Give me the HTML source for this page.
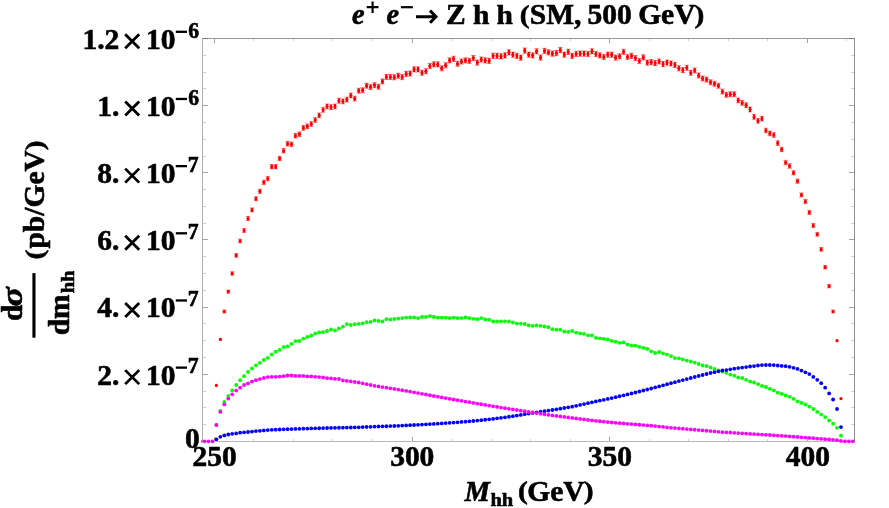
<!DOCTYPE html>
<html><head><meta charset="utf-8"><title>e+ e- to Z h h (SM, 500 GeV)</title>
<style>html,body{margin:0;padding:0;background:#fff;}svg{display:block;will-change:transform;}text{font-family:"Liberation Serif",serif;font-weight:bold;fill:#000;stroke:#000;stroke-width:0.6px;stroke-linejoin:round;}.i{font-style:italic;}</style></head><body>
<svg width="889" height="508" viewBox="0 0 889 508">
<rect x="0" y="0" width="889" height="508" fill="#fff"/>
<clipPath id="pc"><rect x="201.3" y="30" width="655" height="420"/></clipPath>
<g clip-path="url(#pc)">
<g id="red" stroke="#f00" fill="#f00">
<circle cx="216.40" cy="385.40" r="1.6" stroke="none"/>
<circle cx="220.35" cy="339.40" r="1.6" stroke="none"/>
<circle cx="224.31" cy="311.50" r="1.6" stroke="none"/>
<path d="M224.31 309.99V313.01" stroke-width="2.0"/>
<path d="M222.11 309.99h4.4M222.11 313.01h4.4" stroke-width="0.5"/>
<circle cx="228.26" cy="291.60" r="1.6" stroke="none"/>
<path d="M228.26 289.98V293.22" stroke-width="2.0"/>
<path d="M226.06 289.98h4.4M226.06 293.22h4.4" stroke-width="0.5"/>
<circle cx="232.21" cy="273.50" r="1.6" stroke="none"/>
<path d="M232.21 271.79V275.21" stroke-width="2.0"/>
<path d="M230.01 271.79h4.4M230.01 275.21h4.4" stroke-width="0.5"/>
<circle cx="236.17" cy="255.40" r="1.6" stroke="none"/>
<path d="M236.17 253.60V257.20" stroke-width="2.0"/>
<path d="M233.97 253.60h4.4M233.97 257.20h4.4" stroke-width="0.5"/>
<circle cx="240.12" cy="241.00" r="1.6" stroke="none"/>
<path d="M240.12 239.13V242.87" stroke-width="2.0"/>
<path d="M237.92 239.13h4.4M237.92 242.87h4.4" stroke-width="0.5"/>
<circle cx="244.07" cy="230.50" r="1.6" stroke="none"/>
<path d="M244.07 228.58V232.42" stroke-width="2.0"/>
<path d="M241.87 228.58h4.4M241.87 232.42h4.4" stroke-width="0.5"/>
<circle cx="248.02" cy="218.50" r="1.6" stroke="none"/>
<path d="M248.02 216.53V220.47" stroke-width="2.0"/>
<path d="M245.82 216.53h4.4M245.82 220.47h4.4" stroke-width="0.5"/>
<circle cx="251.98" cy="209.90" r="1.6" stroke="none"/>
<path d="M251.98 207.89V211.91" stroke-width="2.0"/>
<path d="M249.78 207.89h4.4M249.78 211.91h4.4" stroke-width="0.5"/>
<circle cx="255.93" cy="198.80" r="1.6" stroke="none"/>
<path d="M255.93 196.74V200.86" stroke-width="2.0"/>
<path d="M253.73 196.74h4.4M253.73 200.86h4.4" stroke-width="0.5"/>
<circle cx="259.88" cy="191.30" r="1.6" stroke="none"/>
<path d="M259.88 189.21V193.39" stroke-width="2.0"/>
<path d="M257.68 189.21h4.4M257.68 193.39h4.4" stroke-width="0.5"/>
<circle cx="263.84" cy="182.30" r="1.6" stroke="none"/>
<path d="M263.84 180.17V184.43" stroke-width="2.0"/>
<path d="M261.64 180.17h4.4M261.64 184.43h4.4" stroke-width="0.5"/>
<circle cx="267.79" cy="178.60" r="1.6" stroke="none"/>
<path d="M267.79 176.46V180.74" stroke-width="2.0"/>
<path d="M265.59 176.46h4.4M265.59 180.74h4.4" stroke-width="0.5"/>
<circle cx="271.74" cy="166.70" r="1.6" stroke="none"/>
<path d="M271.74 164.51V168.89" stroke-width="2.0"/>
<path d="M269.54 164.51h4.4M269.54 168.89h4.4" stroke-width="0.5"/>
<circle cx="275.69" cy="166.70" r="1.6" stroke="none"/>
<path d="M275.69 164.51V168.89" stroke-width="2.0"/>
<path d="M273.50 164.51h4.4M273.50 168.89h4.4" stroke-width="0.5"/>
<circle cx="279.65" cy="158.50" r="1.6" stroke="none"/>
<path d="M279.65 156.28V160.72" stroke-width="2.0"/>
<path d="M277.45 156.28h4.4M277.45 160.72h4.4" stroke-width="0.5"/>
<circle cx="283.60" cy="150.80" r="1.6" stroke="none"/>
<path d="M283.60 148.55V153.05" stroke-width="2.0"/>
<path d="M281.40 148.55h4.4M281.40 153.05h4.4" stroke-width="0.5"/>
<circle cx="287.55" cy="143.80" r="1.6" stroke="none"/>
<path d="M287.55 141.52V146.08" stroke-width="2.0"/>
<path d="M285.35 141.52h4.4M285.35 146.08h4.4" stroke-width="0.5"/>
<circle cx="291.51" cy="144.30" r="1.6" stroke="none"/>
<path d="M291.51 142.02V146.58" stroke-width="2.0"/>
<path d="M289.31 142.02h4.4M289.31 146.58h4.4" stroke-width="0.5"/>
<circle cx="295.46" cy="135.80" r="1.6" stroke="none"/>
<path d="M295.46 133.49V138.11" stroke-width="2.0"/>
<path d="M293.26 133.49h4.4M293.26 138.11h4.4" stroke-width="0.5"/>
<circle cx="299.41" cy="134.20" r="1.6" stroke="none"/>
<path d="M299.41 131.88V136.52" stroke-width="2.0"/>
<path d="M297.21 131.88h4.4M297.21 136.52h4.4" stroke-width="0.5"/>
<circle cx="303.37" cy="127.90" r="1.6" stroke="none"/>
<path d="M303.37 125.56V130.24" stroke-width="2.0"/>
<path d="M301.17 125.56h4.4M301.17 130.24h4.4" stroke-width="0.5"/>
<circle cx="307.32" cy="126.30" r="1.6" stroke="none"/>
<path d="M307.32 123.95V128.65" stroke-width="2.0"/>
<path d="M305.12 123.95h4.4M305.12 128.65h4.4" stroke-width="0.5"/>
<circle cx="311.27" cy="124.00" r="1.6" stroke="none"/>
<path d="M311.27 121.64V126.36" stroke-width="2.0"/>
<path d="M309.07 121.64h4.4M309.07 126.36h4.4" stroke-width="0.5"/>
<circle cx="315.23" cy="120.00" r="1.6" stroke="none"/>
<path d="M315.23 117.63V122.37" stroke-width="2.0"/>
<path d="M313.03 117.63h4.4M313.03 122.37h4.4" stroke-width="0.5"/>
<circle cx="319.18" cy="115.40" r="1.6" stroke="none"/>
<path d="M319.18 113.01V117.79" stroke-width="2.0"/>
<path d="M316.98 113.01h4.4M316.98 117.79h4.4" stroke-width="0.5"/>
<circle cx="323.13" cy="109.80" r="1.6" stroke="none"/>
<path d="M323.13 107.39V112.21" stroke-width="2.0"/>
<path d="M320.93 107.39h4.4M320.93 112.21h4.4" stroke-width="0.5"/>
<circle cx="327.08" cy="106.40" r="1.6" stroke="none"/>
<path d="M327.08 103.98V108.82" stroke-width="2.0"/>
<path d="M324.88 103.98h4.4M324.88 108.82h4.4" stroke-width="0.5"/>
<circle cx="331.04" cy="107.10" r="1.6" stroke="none"/>
<path d="M331.04 104.68V109.52" stroke-width="2.0"/>
<path d="M328.84 104.68h4.4M328.84 109.52h4.4" stroke-width="0.5"/>
<circle cx="334.99" cy="106.40" r="1.6" stroke="none"/>
<path d="M334.99 103.98V108.82" stroke-width="2.0"/>
<path d="M332.79 103.98h4.4M332.79 108.82h4.4" stroke-width="0.5"/>
<circle cx="338.94" cy="100.70" r="1.6" stroke="none"/>
<path d="M338.94 98.26V103.14" stroke-width="2.0"/>
<path d="M336.74 98.26h4.4M336.74 103.14h4.4" stroke-width="0.5"/>
<circle cx="342.90" cy="101.40" r="1.6" stroke="none"/>
<path d="M342.90 98.96V103.84" stroke-width="2.0"/>
<path d="M340.70 98.96h4.4M340.70 103.84h4.4" stroke-width="0.5"/>
<circle cx="346.85" cy="99.60" r="1.6" stroke="none"/>
<path d="M346.85 97.15V102.05" stroke-width="2.0"/>
<path d="M344.65 97.15h4.4M344.65 102.05h4.4" stroke-width="0.5"/>
<circle cx="350.80" cy="95.50" r="1.6" stroke="none"/>
<path d="M350.80 93.04V97.96" stroke-width="2.0"/>
<path d="M348.60 93.04h4.4M348.60 97.96h4.4" stroke-width="0.5"/>
<circle cx="354.75" cy="98.60" r="1.6" stroke="none"/>
<path d="M354.75 96.15V101.05" stroke-width="2.0"/>
<path d="M352.56 96.15h4.4M352.56 101.05h4.4" stroke-width="0.5"/>
<circle cx="358.71" cy="90.70" r="1.6" stroke="none"/>
<path d="M358.71 88.22V93.18" stroke-width="2.0"/>
<path d="M356.51 88.22h4.4M356.51 93.18h4.4" stroke-width="0.5"/>
<circle cx="362.66" cy="90.20" r="1.6" stroke="none"/>
<path d="M362.66 87.72V92.68" stroke-width="2.0"/>
<path d="M360.46 87.72h4.4M360.46 92.68h4.4" stroke-width="0.5"/>
<circle cx="366.61" cy="85.70" r="1.6" stroke="none"/>
<path d="M366.61 83.21V88.19" stroke-width="2.0"/>
<path d="M364.41 83.21h4.4M364.41 88.19h4.4" stroke-width="0.5"/>
<circle cx="370.57" cy="87.10" r="1.6" stroke="none"/>
<path d="M370.57 84.61V89.59" stroke-width="2.0"/>
<path d="M368.37 84.61h4.4M368.37 89.59h4.4" stroke-width="0.5"/>
<circle cx="374.52" cy="85.20" r="1.6" stroke="none"/>
<path d="M374.52 82.70V87.70" stroke-width="2.0"/>
<path d="M372.32 82.70h4.4M372.32 87.70h4.4" stroke-width="0.5"/>
<circle cx="378.47" cy="86.80" r="1.6" stroke="none"/>
<path d="M378.47 84.31V89.29" stroke-width="2.0"/>
<path d="M376.27 84.31h4.4M376.27 89.29h4.4" stroke-width="0.5"/>
<circle cx="382.43" cy="81.40" r="1.6" stroke="none"/>
<path d="M382.43 78.89V83.91" stroke-width="2.0"/>
<path d="M380.23 78.89h4.4M380.23 83.91h4.4" stroke-width="0.5"/>
<circle cx="386.38" cy="76.90" r="1.6" stroke="none"/>
<path d="M386.38 74.37V79.43" stroke-width="2.0"/>
<path d="M384.18 74.37h4.4M384.18 79.43h4.4" stroke-width="0.5"/>
<circle cx="390.33" cy="76.90" r="1.6" stroke="none"/>
<path d="M390.33 74.37V79.43" stroke-width="2.0"/>
<path d="M388.13 74.37h4.4M388.13 79.43h4.4" stroke-width="0.5"/>
<circle cx="394.28" cy="77.30" r="1.6" stroke="none"/>
<path d="M394.28 74.78V79.82" stroke-width="2.0"/>
<path d="M392.08 74.78h4.4M392.08 79.82h4.4" stroke-width="0.5"/>
<circle cx="398.24" cy="75.70" r="1.6" stroke="none"/>
<path d="M398.24 73.17V78.23" stroke-width="2.0"/>
<path d="M396.04 73.17h4.4M396.04 78.23h4.4" stroke-width="0.5"/>
<circle cx="402.19" cy="77.10" r="1.6" stroke="none"/>
<path d="M402.19 74.58V79.62" stroke-width="2.0"/>
<path d="M399.99 74.58h4.4M399.99 79.62h4.4" stroke-width="0.5"/>
<circle cx="406.14" cy="73.90" r="1.6" stroke="none"/>
<path d="M406.14 71.36V76.44" stroke-width="2.0"/>
<path d="M403.94 71.36h4.4M403.94 76.44h4.4" stroke-width="0.5"/>
<circle cx="410.10" cy="73.50" r="1.6" stroke="none"/>
<path d="M410.10 70.96V76.04" stroke-width="2.0"/>
<path d="M407.90 70.96h4.4M407.90 76.04h4.4" stroke-width="0.5"/>
<circle cx="414.05" cy="69.40" r="1.6" stroke="none"/>
<path d="M414.05 66.85V71.95" stroke-width="2.0"/>
<path d="M411.85 66.85h4.4M411.85 71.95h4.4" stroke-width="0.5"/>
<circle cx="418.00" cy="69.40" r="1.6" stroke="none"/>
<path d="M418.00 66.85V71.95" stroke-width="2.0"/>
<path d="M415.80 66.85h4.4M415.80 71.95h4.4" stroke-width="0.5"/>
<circle cx="421.96" cy="72.80" r="1.6" stroke="none"/>
<path d="M421.96 70.26V75.34" stroke-width="2.0"/>
<path d="M419.76 70.26h4.4M419.76 75.34h4.4" stroke-width="0.5"/>
<circle cx="425.91" cy="71.20" r="1.6" stroke="none"/>
<path d="M425.91 68.65V73.75" stroke-width="2.0"/>
<path d="M423.71 68.65h4.4M423.71 73.75h4.4" stroke-width="0.5"/>
<circle cx="429.86" cy="66.00" r="1.6" stroke="none"/>
<path d="M429.86 63.44V68.56" stroke-width="2.0"/>
<path d="M427.66 63.44h4.4M427.66 68.56h4.4" stroke-width="0.5"/>
<circle cx="433.81" cy="64.40" r="1.6" stroke="none"/>
<path d="M433.81 61.83V66.97" stroke-width="2.0"/>
<path d="M431.62 61.83h4.4M431.62 66.97h4.4" stroke-width="0.5"/>
<circle cx="437.77" cy="64.40" r="1.6" stroke="none"/>
<path d="M437.77 61.83V66.97" stroke-width="2.0"/>
<path d="M435.57 61.83h4.4M435.57 66.97h4.4" stroke-width="0.5"/>
<circle cx="441.72" cy="68.30" r="1.6" stroke="none"/>
<path d="M441.72 65.74V70.86" stroke-width="2.0"/>
<path d="M439.52 65.74h4.4M439.52 70.86h4.4" stroke-width="0.5"/>
<circle cx="445.67" cy="65.30" r="1.6" stroke="none"/>
<path d="M445.67 62.73V67.87" stroke-width="2.0"/>
<path d="M443.47 62.73h4.4M443.47 67.87h4.4" stroke-width="0.5"/>
<circle cx="449.63" cy="60.40" r="1.6" stroke="none"/>
<path d="M449.63 57.82V62.98" stroke-width="2.0"/>
<path d="M447.43 57.82h4.4M447.43 62.98h4.4" stroke-width="0.5"/>
<circle cx="453.58" cy="58.80" r="1.6" stroke="none"/>
<path d="M453.58 56.21V61.39" stroke-width="2.0"/>
<path d="M451.38 56.21h4.4M451.38 61.39h4.4" stroke-width="0.5"/>
<circle cx="457.53" cy="63.80" r="1.6" stroke="none"/>
<path d="M457.53 61.23V66.37" stroke-width="2.0"/>
<path d="M455.33 61.23h4.4M455.33 66.37h4.4" stroke-width="0.5"/>
<circle cx="461.49" cy="61.50" r="1.6" stroke="none"/>
<path d="M461.49 58.92V64.08" stroke-width="2.0"/>
<path d="M459.29 58.92h4.4M459.29 64.08h4.4" stroke-width="0.5"/>
<circle cx="465.44" cy="60.40" r="1.6" stroke="none"/>
<path d="M465.44 57.82V62.98" stroke-width="2.0"/>
<path d="M463.24 57.82h4.4M463.24 62.98h4.4" stroke-width="0.5"/>
<circle cx="469.39" cy="60.80" r="1.6" stroke="none"/>
<path d="M469.39 58.22V63.38" stroke-width="2.0"/>
<path d="M467.19 58.22h4.4M467.19 63.38h4.4" stroke-width="0.5"/>
<circle cx="473.35" cy="58.10" r="1.6" stroke="none"/>
<path d="M473.35 55.51V60.69" stroke-width="2.0"/>
<path d="M471.15 55.51h4.4M471.15 60.69h4.4" stroke-width="0.5"/>
<circle cx="477.30" cy="62.60" r="1.6" stroke="none"/>
<path d="M477.30 60.03V65.17" stroke-width="2.0"/>
<path d="M475.10 60.03h4.4M475.10 65.17h4.4" stroke-width="0.5"/>
<circle cx="481.25" cy="59.50" r="1.6" stroke="none"/>
<path d="M481.25 56.91V62.09" stroke-width="2.0"/>
<path d="M479.05 56.91h4.4M479.05 62.09h4.4" stroke-width="0.5"/>
<circle cx="485.20" cy="60.40" r="1.6" stroke="none"/>
<path d="M485.20 57.82V62.98" stroke-width="2.0"/>
<path d="M483.00 57.82h4.4M483.00 62.98h4.4" stroke-width="0.5"/>
<circle cx="489.16" cy="60.80" r="1.6" stroke="none"/>
<path d="M489.16 58.22V63.38" stroke-width="2.0"/>
<path d="M486.96 58.22h4.4M486.96 63.38h4.4" stroke-width="0.5"/>
<circle cx="493.11" cy="55.80" r="1.6" stroke="none"/>
<path d="M493.11 53.20V58.40" stroke-width="2.0"/>
<path d="M490.91 53.20h4.4M490.91 58.40h4.4" stroke-width="0.5"/>
<circle cx="497.06" cy="55.80" r="1.6" stroke="none"/>
<path d="M497.06 53.20V58.40" stroke-width="2.0"/>
<path d="M494.86 53.20h4.4M494.86 58.40h4.4" stroke-width="0.5"/>
<circle cx="501.02" cy="56.30" r="1.6" stroke="none"/>
<path d="M501.02 53.70V58.90" stroke-width="2.0"/>
<path d="M498.82 53.70h4.4M498.82 58.90h4.4" stroke-width="0.5"/>
<circle cx="504.97" cy="55.40" r="1.6" stroke="none"/>
<path d="M504.97 52.80V58.00" stroke-width="2.0"/>
<path d="M502.77 52.80h4.4M502.77 58.00h4.4" stroke-width="0.5"/>
<circle cx="508.92" cy="52.40" r="1.6" stroke="none"/>
<path d="M508.92 49.79V55.01" stroke-width="2.0"/>
<path d="M506.72 49.79h4.4M506.72 55.01h4.4" stroke-width="0.5"/>
<circle cx="512.88" cy="54.70" r="1.6" stroke="none"/>
<path d="M512.88 52.10V57.30" stroke-width="2.0"/>
<path d="M510.68 52.10h4.4M510.68 57.30h4.4" stroke-width="0.5"/>
<circle cx="516.83" cy="55.80" r="1.6" stroke="none"/>
<path d="M516.83 53.20V58.40" stroke-width="2.0"/>
<path d="M514.63 53.20h4.4M514.63 58.40h4.4" stroke-width="0.5"/>
<circle cx="520.78" cy="57.60" r="1.6" stroke="none"/>
<path d="M520.78 55.01V60.19" stroke-width="2.0"/>
<path d="M518.58 55.01h4.4M518.58 60.19h4.4" stroke-width="0.5"/>
<circle cx="524.73" cy="50.60" r="1.6" stroke="none"/>
<path d="M524.73 47.98V53.22" stroke-width="2.0"/>
<path d="M522.53 47.98h4.4M522.53 53.22h4.4" stroke-width="0.5"/>
<circle cx="528.69" cy="54.70" r="1.6" stroke="none"/>
<path d="M528.69 52.10V57.30" stroke-width="2.0"/>
<path d="M526.49 52.10h4.4M526.49 57.30h4.4" stroke-width="0.5"/>
<circle cx="532.64" cy="55.40" r="1.6" stroke="none"/>
<path d="M532.64 52.80V58.00" stroke-width="2.0"/>
<path d="M530.44 52.80h4.4M530.44 58.00h4.4" stroke-width="0.5"/>
<circle cx="536.59" cy="51.30" r="1.6" stroke="none"/>
<path d="M536.59 48.69V53.91" stroke-width="2.0"/>
<path d="M534.39 48.69h4.4M534.39 53.91h4.4" stroke-width="0.5"/>
<circle cx="540.55" cy="57.60" r="1.6" stroke="none"/>
<path d="M540.55 55.01V60.19" stroke-width="2.0"/>
<path d="M538.35 55.01h4.4M538.35 60.19h4.4" stroke-width="0.5"/>
<circle cx="544.50" cy="50.90" r="1.6" stroke="none"/>
<path d="M544.50 48.29V53.51" stroke-width="2.0"/>
<path d="M542.30 48.29h4.4M542.30 53.51h4.4" stroke-width="0.5"/>
<circle cx="548.45" cy="52.40" r="1.6" stroke="none"/>
<path d="M548.45 49.79V55.01" stroke-width="2.0"/>
<path d="M546.25 49.79h4.4M546.25 55.01h4.4" stroke-width="0.5"/>
<circle cx="552.40" cy="53.60" r="1.6" stroke="none"/>
<path d="M552.40 50.99V56.21" stroke-width="2.0"/>
<path d="M550.20 50.99h4.4M550.20 56.21h4.4" stroke-width="0.5"/>
<circle cx="556.36" cy="53.10" r="1.6" stroke="none"/>
<path d="M556.36 50.49V55.71" stroke-width="2.0"/>
<path d="M554.16 50.49h4.4M554.16 55.71h4.4" stroke-width="0.5"/>
<circle cx="560.31" cy="50.20" r="1.6" stroke="none"/>
<path d="M560.31 47.58V52.82" stroke-width="2.0"/>
<path d="M558.11 47.58h4.4M558.11 52.82h4.4" stroke-width="0.5"/>
<circle cx="564.26" cy="54.70" r="1.6" stroke="none"/>
<path d="M564.26 52.10V57.30" stroke-width="2.0"/>
<path d="M562.06 52.10h4.4M562.06 57.30h4.4" stroke-width="0.5"/>
<circle cx="568.22" cy="51.80" r="1.6" stroke="none"/>
<path d="M568.22 49.19V54.41" stroke-width="2.0"/>
<path d="M566.02 49.19h4.4M566.02 54.41h4.4" stroke-width="0.5"/>
<circle cx="572.17" cy="55.80" r="1.6" stroke="none"/>
<path d="M572.17 53.20V58.40" stroke-width="2.0"/>
<path d="M569.97 53.20h4.4M569.97 58.40h4.4" stroke-width="0.5"/>
<circle cx="576.12" cy="54.00" r="1.6" stroke="none"/>
<path d="M576.12 51.40V56.60" stroke-width="2.0"/>
<path d="M573.92 51.40h4.4M573.92 56.60h4.4" stroke-width="0.5"/>
<circle cx="580.08" cy="53.60" r="1.6" stroke="none"/>
<path d="M580.08 50.99V56.21" stroke-width="2.0"/>
<path d="M577.88 50.99h4.4M577.88 56.21h4.4" stroke-width="0.5"/>
<circle cx="584.03" cy="53.60" r="1.6" stroke="none"/>
<path d="M584.03 50.99V56.21" stroke-width="2.0"/>
<path d="M581.83 50.99h4.4M581.83 56.21h4.4" stroke-width="0.5"/>
<circle cx="587.98" cy="54.00" r="1.6" stroke="none"/>
<path d="M587.98 51.40V56.60" stroke-width="2.0"/>
<path d="M585.78 51.40h4.4M585.78 56.60h4.4" stroke-width="0.5"/>
<circle cx="591.93" cy="51.30" r="1.6" stroke="none"/>
<path d="M591.93 48.69V53.91" stroke-width="2.0"/>
<path d="M589.73 48.69h4.4M589.73 53.91h4.4" stroke-width="0.5"/>
<circle cx="595.89" cy="54.00" r="1.6" stroke="none"/>
<path d="M595.89 51.40V56.60" stroke-width="2.0"/>
<path d="M593.69 51.40h4.4M593.69 56.60h4.4" stroke-width="0.5"/>
<circle cx="599.84" cy="55.40" r="1.6" stroke="none"/>
<path d="M599.84 52.80V58.00" stroke-width="2.0"/>
<path d="M597.64 52.80h4.4M597.64 58.00h4.4" stroke-width="0.5"/>
<circle cx="603.79" cy="57.00" r="1.6" stroke="none"/>
<path d="M603.79 54.41V59.59" stroke-width="2.0"/>
<path d="M601.59 54.41h4.4M601.59 59.59h4.4" stroke-width="0.5"/>
<circle cx="607.75" cy="54.70" r="1.6" stroke="none"/>
<path d="M607.75 52.10V57.30" stroke-width="2.0"/>
<path d="M605.55 52.10h4.4M605.55 57.30h4.4" stroke-width="0.5"/>
<circle cx="611.70" cy="54.70" r="1.6" stroke="none"/>
<path d="M611.70 52.10V57.30" stroke-width="2.0"/>
<path d="M609.50 52.10h4.4M609.50 57.30h4.4" stroke-width="0.5"/>
<circle cx="615.65" cy="57.60" r="1.6" stroke="none"/>
<path d="M615.65 55.01V60.19" stroke-width="2.0"/>
<path d="M613.45 55.01h4.4M613.45 60.19h4.4" stroke-width="0.5"/>
<circle cx="619.61" cy="56.30" r="1.6" stroke="none"/>
<path d="M619.61 53.70V58.90" stroke-width="2.0"/>
<path d="M617.41 53.70h4.4M617.41 58.90h4.4" stroke-width="0.5"/>
<circle cx="623.56" cy="51.80" r="1.6" stroke="none"/>
<path d="M623.56 49.19V54.41" stroke-width="2.0"/>
<path d="M621.36 49.19h4.4M621.36 54.41h4.4" stroke-width="0.5"/>
<circle cx="627.51" cy="57.00" r="1.6" stroke="none"/>
<path d="M627.51 54.41V59.59" stroke-width="2.0"/>
<path d="M625.31 54.41h4.4M625.31 59.59h4.4" stroke-width="0.5"/>
<circle cx="631.47" cy="55.80" r="1.6" stroke="none"/>
<path d="M631.47 53.20V58.40" stroke-width="2.0"/>
<path d="M629.26 53.20h4.4M629.26 58.40h4.4" stroke-width="0.5"/>
<circle cx="635.42" cy="58.10" r="1.6" stroke="none"/>
<path d="M635.42 55.51V60.69" stroke-width="2.0"/>
<path d="M633.22 55.51h4.4M633.22 60.69h4.4" stroke-width="0.5"/>
<circle cx="639.37" cy="61.00" r="1.6" stroke="none"/>
<path d="M639.37 58.42V63.58" stroke-width="2.0"/>
<path d="M637.17 58.42h4.4M637.17 63.58h4.4" stroke-width="0.5"/>
<circle cx="643.32" cy="57.40" r="1.6" stroke="none"/>
<path d="M643.32 54.81V59.99" stroke-width="2.0"/>
<path d="M641.12 54.81h4.4M641.12 59.99h4.4" stroke-width="0.5"/>
<circle cx="647.28" cy="62.60" r="1.6" stroke="none"/>
<path d="M647.28 60.03V65.17" stroke-width="2.0"/>
<path d="M645.08 60.03h4.4M645.08 65.17h4.4" stroke-width="0.5"/>
<circle cx="651.23" cy="62.20" r="1.6" stroke="none"/>
<path d="M651.23 59.62V64.78" stroke-width="2.0"/>
<path d="M649.03 59.62h4.4M649.03 64.78h4.4" stroke-width="0.5"/>
<circle cx="655.18" cy="63.10" r="1.6" stroke="none"/>
<path d="M655.18 60.53V65.67" stroke-width="2.0"/>
<path d="M652.98 60.53h4.4M652.98 65.67h4.4" stroke-width="0.5"/>
<circle cx="659.14" cy="61.50" r="1.6" stroke="none"/>
<path d="M659.14 58.92V64.08" stroke-width="2.0"/>
<path d="M656.94 58.92h4.4M656.94 64.08h4.4" stroke-width="0.5"/>
<circle cx="663.09" cy="64.10" r="1.6" stroke="none"/>
<path d="M663.09 61.53V66.67" stroke-width="2.0"/>
<path d="M660.89 61.53h4.4M660.89 66.67h4.4" stroke-width="0.5"/>
<circle cx="667.04" cy="62.60" r="1.6" stroke="none"/>
<path d="M667.04 60.03V65.17" stroke-width="2.0"/>
<path d="M664.84 60.03h4.4M664.84 65.17h4.4" stroke-width="0.5"/>
<circle cx="671.00" cy="63.50" r="1.6" stroke="none"/>
<path d="M671.00 60.93V66.07" stroke-width="2.0"/>
<path d="M668.79 60.93h4.4M668.79 66.07h4.4" stroke-width="0.5"/>
<circle cx="674.95" cy="64.90" r="1.6" stroke="none"/>
<path d="M674.95 62.33V67.47" stroke-width="2.0"/>
<path d="M672.75 62.33h4.4M672.75 67.47h4.4" stroke-width="0.5"/>
<circle cx="678.90" cy="68.30" r="1.6" stroke="none"/>
<path d="M678.90 65.74V70.86" stroke-width="2.0"/>
<path d="M676.70 65.74h4.4M676.70 70.86h4.4" stroke-width="0.5"/>
<circle cx="682.85" cy="70.10" r="1.6" stroke="none"/>
<path d="M682.85 67.55V72.65" stroke-width="2.0"/>
<path d="M680.65 67.55h4.4M680.65 72.65h4.4" stroke-width="0.5"/>
<circle cx="686.81" cy="67.80" r="1.6" stroke="none"/>
<path d="M686.81 65.24V70.36" stroke-width="2.0"/>
<path d="M684.61 65.24h4.4M684.61 70.36h4.4" stroke-width="0.5"/>
<circle cx="690.76" cy="72.80" r="1.6" stroke="none"/>
<path d="M690.76 70.26V75.34" stroke-width="2.0"/>
<path d="M688.56 70.26h4.4M688.56 75.34h4.4" stroke-width="0.5"/>
<circle cx="694.71" cy="70.50" r="1.6" stroke="none"/>
<path d="M694.71 67.95V73.05" stroke-width="2.0"/>
<path d="M692.51 67.95h4.4M692.51 73.05h4.4" stroke-width="0.5"/>
<circle cx="698.67" cy="75.50" r="1.6" stroke="none"/>
<path d="M698.67 72.97V78.03" stroke-width="2.0"/>
<path d="M696.47 72.97h4.4M696.47 78.03h4.4" stroke-width="0.5"/>
<circle cx="702.62" cy="78.50" r="1.6" stroke="none"/>
<path d="M702.62 75.98V81.02" stroke-width="2.0"/>
<path d="M700.42 75.98h4.4M700.42 81.02h4.4" stroke-width="0.5"/>
<circle cx="706.57" cy="79.60" r="1.6" stroke="none"/>
<path d="M706.57 77.08V82.12" stroke-width="2.0"/>
<path d="M704.37 77.08h4.4M704.37 82.12h4.4" stroke-width="0.5"/>
<circle cx="710.52" cy="82.30" r="1.6" stroke="none"/>
<path d="M710.52 79.79V84.81" stroke-width="2.0"/>
<path d="M708.32 79.79h4.4M708.32 84.81h4.4" stroke-width="0.5"/>
<circle cx="714.48" cy="83.70" r="1.6" stroke="none"/>
<path d="M714.48 81.20V86.20" stroke-width="2.0"/>
<path d="M712.28 81.20h4.4M712.28 86.20h4.4" stroke-width="0.5"/>
<circle cx="718.43" cy="85.70" r="1.6" stroke="none"/>
<path d="M718.43 83.21V88.19" stroke-width="2.0"/>
<path d="M716.23 83.21h4.4M716.23 88.19h4.4" stroke-width="0.5"/>
<circle cx="722.38" cy="91.60" r="1.6" stroke="none"/>
<path d="M722.38 89.13V94.07" stroke-width="2.0"/>
<path d="M720.18 89.13h4.4M720.18 94.07h4.4" stroke-width="0.5"/>
<circle cx="726.34" cy="94.80" r="1.6" stroke="none"/>
<path d="M726.34 92.34V97.26" stroke-width="2.0"/>
<path d="M724.14 92.34h4.4M724.14 97.26h4.4" stroke-width="0.5"/>
<circle cx="730.29" cy="94.30" r="1.6" stroke="none"/>
<path d="M730.29 91.84V96.76" stroke-width="2.0"/>
<path d="M728.09 91.84h4.4M728.09 96.76h4.4" stroke-width="0.5"/>
<circle cx="734.24" cy="94.30" r="1.6" stroke="none"/>
<path d="M734.24 91.84V96.76" stroke-width="2.0"/>
<path d="M732.04 91.84h4.4M732.04 96.76h4.4" stroke-width="0.5"/>
<circle cx="738.20" cy="100.40" r="1.6" stroke="none"/>
<path d="M738.20 97.96V102.84" stroke-width="2.0"/>
<path d="M736.00 97.96h4.4M736.00 102.84h4.4" stroke-width="0.5"/>
<circle cx="742.15" cy="102.90" r="1.6" stroke="none"/>
<path d="M742.15 100.47V105.33" stroke-width="2.0"/>
<path d="M739.95 100.47h4.4M739.95 105.33h4.4" stroke-width="0.5"/>
<circle cx="746.10" cy="105.20" r="1.6" stroke="none"/>
<path d="M746.10 102.77V107.63" stroke-width="2.0"/>
<path d="M743.90 102.77h4.4M743.90 107.63h4.4" stroke-width="0.5"/>
<circle cx="750.05" cy="109.50" r="1.6" stroke="none"/>
<path d="M750.05 107.09V111.91" stroke-width="2.0"/>
<path d="M747.85 107.09h4.4M747.85 111.91h4.4" stroke-width="0.5"/>
<circle cx="754.01" cy="116.90" r="1.6" stroke="none"/>
<path d="M754.01 114.52V119.28" stroke-width="2.0"/>
<path d="M751.81 114.52h4.4M751.81 119.28h4.4" stroke-width="0.5"/>
<circle cx="757.96" cy="120.80" r="1.6" stroke="none"/>
<path d="M757.96 118.43V123.17" stroke-width="2.0"/>
<path d="M755.76 118.43h4.4M755.76 123.17h4.4" stroke-width="0.5"/>
<circle cx="761.91" cy="118.70" r="1.6" stroke="none"/>
<path d="M761.91 116.32V121.08" stroke-width="2.0"/>
<path d="M759.71 116.32h4.4M759.71 121.08h4.4" stroke-width="0.5"/>
<circle cx="765.87" cy="130.50" r="1.6" stroke="none"/>
<path d="M765.87 128.17V132.83" stroke-width="2.0"/>
<path d="M763.67 128.17h4.4M763.67 132.83h4.4" stroke-width="0.5"/>
<circle cx="769.82" cy="133.40" r="1.6" stroke="none"/>
<path d="M769.82 131.08V135.72" stroke-width="2.0"/>
<path d="M767.62 131.08h4.4M767.62 135.72h4.4" stroke-width="0.5"/>
<circle cx="773.77" cy="135.00" r="1.6" stroke="none"/>
<path d="M773.77 132.68V137.32" stroke-width="2.0"/>
<path d="M771.57 132.68h4.4M771.57 137.32h4.4" stroke-width="0.5"/>
<circle cx="777.73" cy="143.10" r="1.6" stroke="none"/>
<path d="M777.73 140.82V145.38" stroke-width="2.0"/>
<path d="M775.53 140.82h4.4M775.53 145.38h4.4" stroke-width="0.5"/>
<circle cx="781.68" cy="149.40" r="1.6" stroke="none"/>
<path d="M781.68 147.14V151.66" stroke-width="2.0"/>
<path d="M779.48 147.14h4.4M779.48 151.66h4.4" stroke-width="0.5"/>
<circle cx="785.63" cy="162.60" r="1.6" stroke="none"/>
<path d="M785.63 160.39V164.81" stroke-width="2.0"/>
<path d="M783.43 160.39h4.4M783.43 164.81h4.4" stroke-width="0.5"/>
<circle cx="789.58" cy="166.00" r="1.6" stroke="none"/>
<path d="M789.58 163.80V168.20" stroke-width="2.0"/>
<path d="M787.38 163.80h4.4M787.38 168.20h4.4" stroke-width="0.5"/>
<circle cx="793.54" cy="172.80" r="1.6" stroke="none"/>
<path d="M793.54 170.63V174.97" stroke-width="2.0"/>
<path d="M791.34 170.63h4.4M791.34 174.97h4.4" stroke-width="0.5"/>
<circle cx="797.49" cy="181.20" r="1.6" stroke="none"/>
<path d="M797.49 179.07V183.33" stroke-width="2.0"/>
<path d="M795.29 179.07h4.4M795.29 183.33h4.4" stroke-width="0.5"/>
<circle cx="801.44" cy="195.00" r="1.6" stroke="none"/>
<path d="M801.44 192.92V197.08" stroke-width="2.0"/>
<path d="M799.24 192.92h4.4M799.24 197.08h4.4" stroke-width="0.5"/>
<circle cx="805.40" cy="201.50" r="1.6" stroke="none"/>
<path d="M805.40 199.45V203.55" stroke-width="2.0"/>
<path d="M803.20 199.45h4.4M803.20 203.55h4.4" stroke-width="0.5"/>
<circle cx="809.35" cy="212.40" r="1.6" stroke="none"/>
<path d="M809.35 210.40V214.40" stroke-width="2.0"/>
<path d="M807.15 210.40h4.4M807.15 214.40h4.4" stroke-width="0.5"/>
<circle cx="813.30" cy="225.50" r="1.6" stroke="none"/>
<path d="M813.30 223.56V227.44" stroke-width="2.0"/>
<path d="M811.10 223.56h4.4M811.10 227.44h4.4" stroke-width="0.5"/>
<circle cx="817.26" cy="234.30" r="1.6" stroke="none"/>
<path d="M817.26 232.40V236.20" stroke-width="2.0"/>
<path d="M815.06 232.40h4.4M815.06 236.20h4.4" stroke-width="0.5"/>
<circle cx="821.21" cy="249.40" r="1.6" stroke="none"/>
<path d="M821.21 247.57V251.23" stroke-width="2.0"/>
<path d="M819.01 247.57h4.4M819.01 251.23h4.4" stroke-width="0.5"/>
<circle cx="825.16" cy="267.20" r="1.6" stroke="none"/>
<path d="M825.16 265.45V268.95" stroke-width="2.0"/>
<path d="M822.96 265.45h4.4M822.96 268.95h4.4" stroke-width="0.5"/>
<circle cx="829.12" cy="286.20" r="1.6" stroke="none"/>
<path d="M829.12 284.55V287.85" stroke-width="2.0"/>
<path d="M826.91 284.55h4.4M826.91 287.85h4.4" stroke-width="0.5"/>
<circle cx="833.07" cy="311.50" r="1.6" stroke="none"/>
<path d="M833.07 309.99V313.01" stroke-width="2.0"/>
<path d="M830.87 309.99h4.4M830.87 313.01h4.4" stroke-width="0.5"/>
<circle cx="837.02" cy="340.70" r="1.6" stroke="none"/>
<circle cx="840.97" cy="398.60" r="1.6" stroke="none"/>
</g>
<g id="green" fill="#0f0">
<circle cx="216.40" cy="425.00" r="1.9"/>
<circle cx="220.35" cy="410.80" r="1.9"/>
<circle cx="224.31" cy="402.00" r="1.9"/>
<circle cx="228.26" cy="396.00" r="1.9"/>
<circle cx="232.21" cy="390.40" r="1.9"/>
<circle cx="236.17" cy="385.00" r="1.9"/>
<circle cx="240.12" cy="380.20" r="1.9"/>
<circle cx="244.07" cy="376.20" r="1.9"/>
<circle cx="248.02" cy="371.90" r="1.9"/>
<circle cx="251.98" cy="368.50" r="1.9"/>
<circle cx="255.93" cy="365.30" r="1.9"/>
<circle cx="259.88" cy="362.80" r="1.9"/>
<circle cx="263.84" cy="359.90" r="1.9"/>
<circle cx="267.79" cy="357.80" r="1.9"/>
<circle cx="271.74" cy="354.40" r="1.9"/>
<circle cx="275.69" cy="351.70" r="1.9"/>
<circle cx="279.65" cy="349.90" r="1.9"/>
<circle cx="283.60" cy="347.10" r="1.9"/>
<circle cx="287.55" cy="346.40" r="1.9"/>
<circle cx="291.51" cy="343.80" r="1.9"/>
<circle cx="295.46" cy="341.10" r="1.9"/>
<circle cx="299.41" cy="341.00" r="1.9"/>
<circle cx="303.37" cy="338.60" r="1.9"/>
<circle cx="307.32" cy="336.80" r="1.9"/>
<circle cx="311.27" cy="335.50" r="1.9"/>
<circle cx="315.23" cy="333.50" r="1.9"/>
<circle cx="319.18" cy="332.30" r="1.9"/>
<circle cx="323.13" cy="332.10" r="1.9"/>
<circle cx="327.08" cy="331.00" r="1.9"/>
<circle cx="331.04" cy="329.50" r="1.9"/>
<circle cx="334.99" cy="330.50" r="1.9"/>
<circle cx="338.94" cy="328.40" r="1.9"/>
<circle cx="342.90" cy="326.60" r="1.9"/>
<circle cx="346.85" cy="324.10" r="1.9"/>
<circle cx="350.80" cy="325.00" r="1.9"/>
<circle cx="354.75" cy="324.20" r="1.9"/>
<circle cx="358.71" cy="323.80" r="1.9"/>
<circle cx="362.66" cy="323.30" r="1.9"/>
<circle cx="366.61" cy="322.20" r="1.9"/>
<circle cx="370.57" cy="321.90" r="1.9"/>
<circle cx="374.52" cy="320.40" r="1.9"/>
<circle cx="378.47" cy="321.00" r="1.9"/>
<circle cx="382.43" cy="321.50" r="1.9"/>
<circle cx="386.38" cy="319.20" r="1.9"/>
<circle cx="390.33" cy="319.50" r="1.9"/>
<circle cx="394.28" cy="319.00" r="1.9"/>
<circle cx="398.24" cy="318.60" r="1.9"/>
<circle cx="402.19" cy="318.10" r="1.9"/>
<circle cx="406.14" cy="317.60" r="1.9"/>
<circle cx="410.10" cy="317.40" r="1.9"/>
<circle cx="414.05" cy="317.40" r="1.9"/>
<circle cx="418.00" cy="318.10" r="1.9"/>
<circle cx="421.96" cy="317.00" r="1.9"/>
<circle cx="425.91" cy="317.00" r="1.9"/>
<circle cx="429.86" cy="316.10" r="1.9"/>
<circle cx="433.81" cy="317.00" r="1.9"/>
<circle cx="437.77" cy="317.60" r="1.9"/>
<circle cx="441.72" cy="317.60" r="1.9"/>
<circle cx="445.67" cy="317.60" r="1.9"/>
<circle cx="449.63" cy="318.10" r="1.9"/>
<circle cx="453.58" cy="317.60" r="1.9"/>
<circle cx="457.53" cy="318.10" r="1.9"/>
<circle cx="461.49" cy="318.10" r="1.9"/>
<circle cx="465.44" cy="317.40" r="1.9"/>
<circle cx="469.39" cy="318.10" r="1.9"/>
<circle cx="473.35" cy="318.80" r="1.9"/>
<circle cx="477.30" cy="319.20" r="1.9"/>
<circle cx="481.25" cy="318.10" r="1.9"/>
<circle cx="485.20" cy="319.50" r="1.9"/>
<circle cx="489.16" cy="319.70" r="1.9"/>
<circle cx="493.11" cy="321.50" r="1.9"/>
<circle cx="497.06" cy="321.50" r="1.9"/>
<circle cx="501.02" cy="321.30" r="1.9"/>
<circle cx="504.97" cy="321.30" r="1.9"/>
<circle cx="508.92" cy="321.50" r="1.9"/>
<circle cx="512.88" cy="322.50" r="1.9"/>
<circle cx="516.83" cy="323.60" r="1.9"/>
<circle cx="520.78" cy="323.60" r="1.9"/>
<circle cx="524.73" cy="324.00" r="1.9"/>
<circle cx="528.69" cy="325.40" r="1.9"/>
<circle cx="532.64" cy="325.80" r="1.9"/>
<circle cx="536.59" cy="325.40" r="1.9"/>
<circle cx="540.55" cy="325.80" r="1.9"/>
<circle cx="544.50" cy="326.50" r="1.9"/>
<circle cx="548.45" cy="327.20" r="1.9"/>
<circle cx="552.40" cy="329.20" r="1.9"/>
<circle cx="556.36" cy="329.70" r="1.9"/>
<circle cx="560.31" cy="329.70" r="1.9"/>
<circle cx="564.26" cy="331.50" r="1.9"/>
<circle cx="568.22" cy="331.90" r="1.9"/>
<circle cx="572.17" cy="331.00" r="1.9"/>
<circle cx="576.12" cy="332.60" r="1.9"/>
<circle cx="580.08" cy="333.30" r="1.9"/>
<circle cx="584.03" cy="333.80" r="1.9"/>
<circle cx="587.98" cy="335.30" r="1.9"/>
<circle cx="591.93" cy="335.30" r="1.9"/>
<circle cx="595.89" cy="337.80" r="1.9"/>
<circle cx="599.84" cy="338.30" r="1.9"/>
<circle cx="603.79" cy="338.90" r="1.9"/>
<circle cx="607.75" cy="339.40" r="1.9"/>
<circle cx="611.70" cy="340.90" r="1.9"/>
<circle cx="615.65" cy="341.70" r="1.9"/>
<circle cx="619.61" cy="342.80" r="1.9"/>
<circle cx="623.56" cy="342.40" r="1.9"/>
<circle cx="627.51" cy="344.60" r="1.9"/>
<circle cx="631.47" cy="345.60" r="1.9"/>
<circle cx="635.42" cy="345.70" r="1.9"/>
<circle cx="639.37" cy="346.90" r="1.9"/>
<circle cx="643.32" cy="347.80" r="1.9"/>
<circle cx="647.28" cy="348.90" r="1.9"/>
<circle cx="651.23" cy="351.30" r="1.9"/>
<circle cx="655.18" cy="353.00" r="1.9"/>
<circle cx="659.14" cy="352.00" r="1.9"/>
<circle cx="663.09" cy="353.40" r="1.9"/>
<circle cx="667.04" cy="354.60" r="1.9"/>
<circle cx="671.00" cy="356.20" r="1.9"/>
<circle cx="674.95" cy="358.10" r="1.9"/>
<circle cx="678.90" cy="358.30" r="1.9"/>
<circle cx="682.85" cy="359.40" r="1.9"/>
<circle cx="686.81" cy="360.60" r="1.9"/>
<circle cx="690.76" cy="361.50" r="1.9"/>
<circle cx="694.71" cy="362.60" r="1.9"/>
<circle cx="698.67" cy="364.00" r="1.9"/>
<circle cx="702.62" cy="365.50" r="1.9"/>
<circle cx="706.57" cy="366.00" r="1.9"/>
<circle cx="710.52" cy="367.40" r="1.9"/>
<circle cx="714.48" cy="368.90" r="1.9"/>
<circle cx="718.43" cy="370.50" r="1.9"/>
<circle cx="722.38" cy="371.50" r="1.9"/>
<circle cx="726.34" cy="372.80" r="1.9"/>
<circle cx="730.29" cy="374.60" r="1.9"/>
<circle cx="734.24" cy="375.70" r="1.9"/>
<circle cx="738.20" cy="377.50" r="1.9"/>
<circle cx="742.15" cy="378.00" r="1.9"/>
<circle cx="746.10" cy="379.80" r="1.9"/>
<circle cx="750.05" cy="381.40" r="1.9"/>
<circle cx="754.01" cy="382.50" r="1.9"/>
<circle cx="757.96" cy="384.10" r="1.9"/>
<circle cx="761.91" cy="385.90" r="1.9"/>
<circle cx="765.87" cy="387.00" r="1.9"/>
<circle cx="769.82" cy="388.80" r="1.9"/>
<circle cx="773.77" cy="390.40" r="1.9"/>
<circle cx="777.73" cy="392.70" r="1.9"/>
<circle cx="781.68" cy="393.80" r="1.9"/>
<circle cx="785.63" cy="395.40" r="1.9"/>
<circle cx="789.58" cy="396.80" r="1.9"/>
<circle cx="793.54" cy="398.80" r="1.9"/>
<circle cx="797.49" cy="401.30" r="1.9"/>
<circle cx="801.44" cy="402.90" r="1.9"/>
<circle cx="805.40" cy="404.50" r="1.9"/>
<circle cx="809.35" cy="406.70" r="1.9"/>
<circle cx="813.30" cy="409.00" r="1.9"/>
<circle cx="817.26" cy="411.90" r="1.9"/>
<circle cx="821.21" cy="414.60" r="1.9"/>
<circle cx="825.16" cy="417.10" r="1.9"/>
<circle cx="829.12" cy="420.50" r="1.9"/>
<circle cx="833.07" cy="423.70" r="1.9"/>
<circle cx="837.02" cy="427.80" r="1.9"/>
<circle cx="840.97" cy="435.70" r="1.9"/>
</g>
<g id="blue" fill="#00f">
<circle cx="216.40" cy="439.30" r="1.9"/>
<circle cx="220.35" cy="436.80" r="1.9"/>
<circle cx="224.31" cy="435.40" r="1.9"/>
<circle cx="228.26" cy="434.50" r="1.9"/>
<circle cx="232.21" cy="433.80" r="1.9"/>
<circle cx="236.17" cy="433.40" r="1.9"/>
<circle cx="240.12" cy="432.70" r="1.9"/>
<circle cx="244.07" cy="432.30" r="1.9"/>
<circle cx="248.02" cy="432.00" r="1.9"/>
<circle cx="251.98" cy="431.55" r="1.9"/>
<circle cx="255.93" cy="431.10" r="1.9"/>
<circle cx="259.88" cy="430.78" r="1.9"/>
<circle cx="263.84" cy="430.45" r="1.9"/>
<circle cx="267.79" cy="430.12" r="1.9"/>
<circle cx="271.74" cy="429.80" r="1.9"/>
<circle cx="275.69" cy="429.65" r="1.9"/>
<circle cx="279.65" cy="429.50" r="1.9"/>
<circle cx="283.60" cy="429.35" r="1.9"/>
<circle cx="287.55" cy="429.20" r="1.9"/>
<circle cx="291.51" cy="429.05" r="1.9"/>
<circle cx="295.46" cy="428.90" r="1.9"/>
<circle cx="299.41" cy="428.79" r="1.9"/>
<circle cx="303.37" cy="428.67" r="1.9"/>
<circle cx="307.32" cy="428.56" r="1.9"/>
<circle cx="311.27" cy="428.45" r="1.9"/>
<circle cx="315.23" cy="428.34" r="1.9"/>
<circle cx="319.18" cy="428.23" r="1.9"/>
<circle cx="323.13" cy="428.11" r="1.9"/>
<circle cx="327.08" cy="428.00" r="1.9"/>
<circle cx="331.04" cy="427.91" r="1.9"/>
<circle cx="334.99" cy="427.82" r="1.9"/>
<circle cx="338.94" cy="427.74" r="1.9"/>
<circle cx="342.90" cy="427.65" r="1.9"/>
<circle cx="346.85" cy="427.56" r="1.9"/>
<circle cx="350.80" cy="427.48" r="1.9"/>
<circle cx="354.75" cy="427.39" r="1.9"/>
<circle cx="358.71" cy="427.30" r="1.9"/>
<circle cx="362.66" cy="427.12" r="1.9"/>
<circle cx="366.61" cy="426.95" r="1.9"/>
<circle cx="370.57" cy="426.78" r="1.9"/>
<circle cx="374.52" cy="426.60" r="1.9"/>
<circle cx="378.47" cy="426.48" r="1.9"/>
<circle cx="382.43" cy="426.36" r="1.9"/>
<circle cx="386.38" cy="426.24" r="1.9"/>
<circle cx="390.33" cy="426.12" r="1.9"/>
<circle cx="394.28" cy="426.00" r="1.9"/>
<circle cx="398.24" cy="425.80" r="1.9"/>
<circle cx="402.19" cy="425.60" r="1.9"/>
<circle cx="406.14" cy="425.40" r="1.9"/>
<circle cx="410.10" cy="425.20" r="1.9"/>
<circle cx="414.05" cy="425.00" r="1.9"/>
<circle cx="418.00" cy="424.78" r="1.9"/>
<circle cx="421.96" cy="424.56" r="1.9"/>
<circle cx="425.91" cy="424.34" r="1.9"/>
<circle cx="429.86" cy="424.12" r="1.9"/>
<circle cx="433.81" cy="423.90" r="1.9"/>
<circle cx="437.77" cy="423.64" r="1.9"/>
<circle cx="441.72" cy="423.38" r="1.9"/>
<circle cx="445.67" cy="423.12" r="1.9"/>
<circle cx="449.63" cy="422.86" r="1.9"/>
<circle cx="453.58" cy="422.60" r="1.9"/>
<circle cx="457.53" cy="422.28" r="1.9"/>
<circle cx="461.49" cy="421.96" r="1.9"/>
<circle cx="465.44" cy="421.64" r="1.9"/>
<circle cx="469.39" cy="421.32" r="1.9"/>
<circle cx="473.35" cy="421.00" r="1.9"/>
<circle cx="477.30" cy="420.58" r="1.9"/>
<circle cx="481.25" cy="420.16" r="1.9"/>
<circle cx="485.20" cy="419.74" r="1.9"/>
<circle cx="489.16" cy="419.32" r="1.9"/>
<circle cx="493.11" cy="418.90" r="1.9"/>
<circle cx="497.06" cy="418.36" r="1.9"/>
<circle cx="501.02" cy="417.82" r="1.9"/>
<circle cx="504.97" cy="417.28" r="1.9"/>
<circle cx="508.92" cy="416.74" r="1.9"/>
<circle cx="512.88" cy="416.20" r="1.9"/>
<circle cx="516.83" cy="415.54" r="1.9"/>
<circle cx="520.78" cy="414.88" r="1.9"/>
<circle cx="524.73" cy="414.22" r="1.9"/>
<circle cx="528.69" cy="413.56" r="1.9"/>
<circle cx="532.64" cy="412.90" r="1.9"/>
<circle cx="536.59" cy="412.32" r="1.9"/>
<circle cx="540.55" cy="411.74" r="1.9"/>
<circle cx="544.50" cy="411.16" r="1.9"/>
<circle cx="548.45" cy="410.58" r="1.9"/>
<circle cx="552.40" cy="410.00" r="1.9"/>
<circle cx="556.36" cy="409.34" r="1.9"/>
<circle cx="560.31" cy="408.68" r="1.9"/>
<circle cx="564.26" cy="408.02" r="1.9"/>
<circle cx="568.22" cy="407.36" r="1.9"/>
<circle cx="572.17" cy="406.70" r="1.9"/>
<circle cx="576.12" cy="405.82" r="1.9"/>
<circle cx="580.08" cy="404.94" r="1.9"/>
<circle cx="584.03" cy="404.06" r="1.9"/>
<circle cx="587.98" cy="403.18" r="1.9"/>
<circle cx="591.93" cy="402.30" r="1.9"/>
<circle cx="595.89" cy="401.46" r="1.9"/>
<circle cx="599.84" cy="400.62" r="1.9"/>
<circle cx="603.79" cy="399.78" r="1.9"/>
<circle cx="607.75" cy="398.94" r="1.9"/>
<circle cx="611.70" cy="398.10" r="1.9"/>
<circle cx="615.65" cy="397.18" r="1.9"/>
<circle cx="619.61" cy="396.26" r="1.9"/>
<circle cx="623.56" cy="395.34" r="1.9"/>
<circle cx="627.51" cy="394.42" r="1.9"/>
<circle cx="631.47" cy="393.50" r="1.9"/>
<circle cx="635.42" cy="392.50" r="1.9"/>
<circle cx="639.37" cy="391.50" r="1.9"/>
<circle cx="643.32" cy="390.50" r="1.9"/>
<circle cx="647.28" cy="389.50" r="1.9"/>
<circle cx="651.23" cy="388.50" r="1.9"/>
<circle cx="655.18" cy="387.44" r="1.9"/>
<circle cx="659.14" cy="386.38" r="1.9"/>
<circle cx="663.09" cy="385.32" r="1.9"/>
<circle cx="667.04" cy="384.26" r="1.9"/>
<circle cx="671.00" cy="383.20" r="1.9"/>
<circle cx="674.95" cy="382.16" r="1.9"/>
<circle cx="678.90" cy="381.12" r="1.9"/>
<circle cx="682.85" cy="380.08" r="1.9"/>
<circle cx="686.81" cy="379.04" r="1.9"/>
<circle cx="690.76" cy="378.00" r="1.9"/>
<circle cx="694.71" cy="377.00" r="1.9"/>
<circle cx="698.67" cy="376.00" r="1.9"/>
<circle cx="702.62" cy="375.00" r="1.9"/>
<circle cx="706.57" cy="374.00" r="1.9"/>
<circle cx="710.52" cy="373.00" r="1.9"/>
<circle cx="714.48" cy="372.17" r="1.9"/>
<circle cx="718.43" cy="371.33" r="1.9"/>
<circle cx="722.38" cy="370.50" r="1.9"/>
<circle cx="726.34" cy="370.10" r="1.9"/>
<circle cx="730.29" cy="369.30" r="1.9"/>
<circle cx="734.24" cy="368.70" r="1.9"/>
<circle cx="738.20" cy="368.10" r="1.9"/>
<circle cx="742.15" cy="367.60" r="1.9"/>
<circle cx="746.10" cy="367.10" r="1.9"/>
<circle cx="750.05" cy="366.50" r="1.9"/>
<circle cx="754.01" cy="366.10" r="1.9"/>
<circle cx="757.96" cy="365.50" r="1.9"/>
<circle cx="761.91" cy="365.10" r="1.9"/>
<circle cx="765.87" cy="365.00" r="1.9"/>
<circle cx="769.82" cy="365.00" r="1.9"/>
<circle cx="773.77" cy="365.10" r="1.9"/>
<circle cx="777.73" cy="365.50" r="1.9"/>
<circle cx="781.68" cy="365.90" r="1.9"/>
<circle cx="785.63" cy="366.20" r="1.9"/>
<circle cx="789.58" cy="366.80" r="1.9"/>
<circle cx="793.54" cy="367.80" r="1.9"/>
<circle cx="797.49" cy="368.90" r="1.9"/>
<circle cx="801.44" cy="370.60" r="1.9"/>
<circle cx="805.40" cy="372.30" r="1.9"/>
<circle cx="809.35" cy="374.10" r="1.9"/>
<circle cx="813.30" cy="376.90" r="1.9"/>
<circle cx="817.26" cy="379.80" r="1.9"/>
<circle cx="821.21" cy="383.20" r="1.9"/>
<circle cx="825.16" cy="387.70" r="1.9"/>
<circle cx="829.12" cy="393.40" r="1.9"/>
<circle cx="833.07" cy="399.50" r="1.9"/>
<circle cx="837.02" cy="409.00" r="1.9"/>
<circle cx="840.97" cy="427.10" r="1.9"/>
</g>
<g id="mag" fill="#f0f">
<circle cx="200.59" cy="441.30" r="1.9"/>
<circle cx="204.54" cy="441.30" r="1.9"/>
<circle cx="208.49" cy="441.30" r="1.9"/>
<circle cx="212.45" cy="441.30" r="1.9"/>
<circle cx="216.40" cy="425.00" r="1.9"/>
<circle cx="220.35" cy="411.90" r="1.9"/>
<circle cx="224.31" cy="404.40" r="1.9"/>
<circle cx="228.26" cy="398.60" r="1.9"/>
<circle cx="232.21" cy="394.30" r="1.9"/>
<circle cx="236.17" cy="390.60" r="1.9"/>
<circle cx="240.12" cy="387.70" r="1.9"/>
<circle cx="244.07" cy="385.00" r="1.9"/>
<circle cx="248.02" cy="383.40" r="1.9"/>
<circle cx="251.98" cy="381.60" r="1.9"/>
<circle cx="255.93" cy="380.20" r="1.9"/>
<circle cx="259.88" cy="379.10" r="1.9"/>
<circle cx="263.84" cy="378.00" r="1.9"/>
<circle cx="267.79" cy="377.10" r="1.9"/>
<circle cx="271.74" cy="376.80" r="1.9"/>
<circle cx="275.69" cy="376.80" r="1.9"/>
<circle cx="279.65" cy="376.60" r="1.9"/>
<circle cx="283.60" cy="376.20" r="1.9"/>
<circle cx="287.55" cy="375.50" r="1.9"/>
<circle cx="291.51" cy="375.50" r="1.9"/>
<circle cx="295.46" cy="375.90" r="1.9"/>
<circle cx="299.41" cy="375.90" r="1.9"/>
<circle cx="303.37" cy="375.90" r="1.9"/>
<circle cx="307.32" cy="376.40" r="1.9"/>
<circle cx="311.27" cy="376.40" r="1.9"/>
<circle cx="315.23" cy="376.80" r="1.9"/>
<circle cx="319.18" cy="377.10" r="1.9"/>
<circle cx="323.13" cy="377.50" r="1.9"/>
<circle cx="327.08" cy="378.20" r="1.9"/>
<circle cx="331.04" cy="378.40" r="1.9"/>
<circle cx="334.99" cy="378.90" r="1.9"/>
<circle cx="338.94" cy="379.00" r="1.9"/>
<circle cx="342.90" cy="380.40" r="1.9"/>
<circle cx="346.85" cy="380.90" r="1.9"/>
<circle cx="350.80" cy="381.40" r="1.9"/>
<circle cx="354.75" cy="382.00" r="1.9"/>
<circle cx="358.71" cy="382.50" r="1.9"/>
<circle cx="362.66" cy="383.32" r="1.9"/>
<circle cx="366.61" cy="384.15" r="1.9"/>
<circle cx="370.57" cy="384.98" r="1.9"/>
<circle cx="374.52" cy="385.80" r="1.9"/>
<circle cx="378.47" cy="386.42" r="1.9"/>
<circle cx="382.43" cy="387.04" r="1.9"/>
<circle cx="386.38" cy="387.66" r="1.9"/>
<circle cx="390.33" cy="388.28" r="1.9"/>
<circle cx="394.28" cy="388.90" r="1.9"/>
<circle cx="398.24" cy="389.58" r="1.9"/>
<circle cx="402.19" cy="390.26" r="1.9"/>
<circle cx="406.14" cy="390.94" r="1.9"/>
<circle cx="410.10" cy="391.62" r="1.9"/>
<circle cx="414.05" cy="392.30" r="1.9"/>
<circle cx="418.00" cy="393.04" r="1.9"/>
<circle cx="421.96" cy="393.78" r="1.9"/>
<circle cx="425.91" cy="394.52" r="1.9"/>
<circle cx="429.86" cy="395.26" r="1.9"/>
<circle cx="433.81" cy="396.00" r="1.9"/>
<circle cx="437.77" cy="396.70" r="1.9"/>
<circle cx="441.72" cy="397.40" r="1.9"/>
<circle cx="445.67" cy="398.10" r="1.9"/>
<circle cx="449.63" cy="398.80" r="1.9"/>
<circle cx="453.58" cy="399.50" r="1.9"/>
<circle cx="457.53" cy="400.18" r="1.9"/>
<circle cx="461.49" cy="400.86" r="1.9"/>
<circle cx="465.44" cy="401.54" r="1.9"/>
<circle cx="469.39" cy="402.22" r="1.9"/>
<circle cx="473.35" cy="402.90" r="1.9"/>
<circle cx="477.30" cy="403.58" r="1.9"/>
<circle cx="481.25" cy="404.26" r="1.9"/>
<circle cx="485.20" cy="404.94" r="1.9"/>
<circle cx="489.16" cy="405.62" r="1.9"/>
<circle cx="493.11" cy="406.30" r="1.9"/>
<circle cx="497.06" cy="406.92" r="1.9"/>
<circle cx="501.02" cy="407.54" r="1.9"/>
<circle cx="504.97" cy="408.16" r="1.9"/>
<circle cx="508.92" cy="408.78" r="1.9"/>
<circle cx="512.88" cy="409.40" r="1.9"/>
<circle cx="516.83" cy="410.02" r="1.9"/>
<circle cx="520.78" cy="410.64" r="1.9"/>
<circle cx="524.73" cy="411.26" r="1.9"/>
<circle cx="528.69" cy="411.88" r="1.9"/>
<circle cx="532.64" cy="412.50" r="1.9"/>
<circle cx="536.59" cy="413.08" r="1.9"/>
<circle cx="540.55" cy="413.66" r="1.9"/>
<circle cx="544.50" cy="414.24" r="1.9"/>
<circle cx="548.45" cy="414.82" r="1.9"/>
<circle cx="552.40" cy="415.40" r="1.9"/>
<circle cx="556.36" cy="415.90" r="1.9"/>
<circle cx="560.31" cy="416.40" r="1.9"/>
<circle cx="564.26" cy="416.90" r="1.9"/>
<circle cx="568.22" cy="417.40" r="1.9"/>
<circle cx="572.17" cy="417.90" r="1.9"/>
<circle cx="576.12" cy="418.40" r="1.9"/>
<circle cx="580.08" cy="418.90" r="1.9"/>
<circle cx="584.03" cy="419.40" r="1.9"/>
<circle cx="587.98" cy="419.90" r="1.9"/>
<circle cx="591.93" cy="420.40" r="1.9"/>
<circle cx="595.89" cy="420.82" r="1.9"/>
<circle cx="599.84" cy="421.24" r="1.9"/>
<circle cx="603.79" cy="421.66" r="1.9"/>
<circle cx="607.75" cy="422.08" r="1.9"/>
<circle cx="611.70" cy="422.50" r="1.9"/>
<circle cx="615.65" cy="422.82" r="1.9"/>
<circle cx="619.61" cy="423.14" r="1.9"/>
<circle cx="623.56" cy="423.46" r="1.9"/>
<circle cx="627.51" cy="423.78" r="1.9"/>
<circle cx="631.47" cy="424.10" r="1.9"/>
<circle cx="635.42" cy="424.42" r="1.9"/>
<circle cx="639.37" cy="424.74" r="1.9"/>
<circle cx="643.32" cy="425.06" r="1.9"/>
<circle cx="647.28" cy="425.38" r="1.9"/>
<circle cx="651.23" cy="425.70" r="1.9"/>
<circle cx="655.18" cy="426.12" r="1.9"/>
<circle cx="659.14" cy="426.54" r="1.9"/>
<circle cx="663.09" cy="426.96" r="1.9"/>
<circle cx="667.04" cy="427.38" r="1.9"/>
<circle cx="671.00" cy="427.80" r="1.9"/>
<circle cx="674.95" cy="428.12" r="1.9"/>
<circle cx="678.90" cy="428.44" r="1.9"/>
<circle cx="682.85" cy="428.76" r="1.9"/>
<circle cx="686.81" cy="429.08" r="1.9"/>
<circle cx="690.76" cy="429.40" r="1.9"/>
<circle cx="694.71" cy="429.74" r="1.9"/>
<circle cx="698.67" cy="430.08" r="1.9"/>
<circle cx="702.62" cy="430.42" r="1.9"/>
<circle cx="706.57" cy="430.76" r="1.9"/>
<circle cx="710.52" cy="431.10" r="1.9"/>
<circle cx="714.48" cy="431.47" r="1.9"/>
<circle cx="718.43" cy="431.83" r="1.9"/>
<circle cx="722.38" cy="432.20" r="1.9"/>
<circle cx="726.34" cy="432.35" r="1.9"/>
<circle cx="730.29" cy="432.50" r="1.9"/>
<circle cx="734.24" cy="432.78" r="1.9"/>
<circle cx="738.20" cy="433.06" r="1.9"/>
<circle cx="742.15" cy="433.34" r="1.9"/>
<circle cx="746.10" cy="433.62" r="1.9"/>
<circle cx="750.05" cy="433.90" r="1.9"/>
<circle cx="754.01" cy="434.12" r="1.9"/>
<circle cx="757.96" cy="434.34" r="1.9"/>
<circle cx="761.91" cy="434.56" r="1.9"/>
<circle cx="765.87" cy="434.78" r="1.9"/>
<circle cx="769.82" cy="435.00" r="1.9"/>
<circle cx="773.77" cy="435.28" r="1.9"/>
<circle cx="777.73" cy="435.56" r="1.9"/>
<circle cx="781.68" cy="435.84" r="1.9"/>
<circle cx="785.63" cy="436.12" r="1.9"/>
<circle cx="789.58" cy="436.40" r="1.9"/>
<circle cx="793.54" cy="436.70" r="1.9"/>
<circle cx="797.49" cy="437.00" r="1.9"/>
<circle cx="801.44" cy="437.30" r="1.9"/>
<circle cx="805.40" cy="437.60" r="1.9"/>
<circle cx="809.35" cy="437.90" r="1.9"/>
<circle cx="813.30" cy="438.22" r="1.9"/>
<circle cx="817.26" cy="438.54" r="1.9"/>
<circle cx="821.21" cy="438.86" r="1.9"/>
<circle cx="825.16" cy="439.18" r="1.9"/>
<circle cx="829.12" cy="439.50" r="1.9"/>
<circle cx="833.07" cy="439.85" r="1.9"/>
<circle cx="837.02" cy="440.20" r="1.9"/>
<circle cx="840.97" cy="440.90" r="1.9"/>
<circle cx="844.93" cy="441.30" r="1.9"/>
<circle cx="848.88" cy="441.30" r="1.9"/>
<circle cx="852.83" cy="441.30" r="1.9"/>
</g>
</g>
<g id="frame" stroke="#666" stroke-width="1" fill="none" shape-rendering="crispEdges">
<path d="M202.0 38.5H855.0" stroke-opacity="0.68"/>
<path d="M854.5 39.0V442.0" stroke-opacity="0.72"/>
<path d="M202.5 39.0V442.0" stroke-opacity="0.52"/>
<path d="M203.0 441.5H854.0" stroke-opacity="0.47"/>
<path d="M214.5 441.0v-4M214.5 39.0v4M412.5 441.0v-4M412.5 39.0v4M609.5 441.0v-4M609.5 39.0v4M807.5 441.0v-4M807.5 39.0v4M203.0 441.5h5M854.0 441.5h-5M203.0 374.5h5M854.0 374.5h-5M203.0 307.5h5M854.0 307.5h-5M203.0 239.5h5M854.0 239.5h-5M203.0 172.5h5M854.0 172.5h-5M203.0 105.5h5M854.0 105.5h-5M203.0 38.5h5M854.0 38.5h-5" stroke-opacity="0.6"/>
<path d="M253.5 441.0v-2M253.5 39.0v2M293.5 441.0v-2M293.5 39.0v2M332.5 441.0v-2M332.5 39.0v2M372.5 441.0v-2M372.5 39.0v2M451.5 441.0v-2M451.5 39.0v2M491.5 441.0v-2M491.5 39.0v2M530.5 441.0v-2M530.5 39.0v2M570.5 441.0v-2M570.5 39.0v2M649.5 441.0v-2M649.5 39.0v2M688.5 441.0v-2M688.5 39.0v2M728.5 441.0v-2M728.5 39.0v2M767.5 441.0v-2M767.5 39.0v2M846.5 441.0v-2M846.5 39.0v2M203.0 424.5h3M854.0 424.5h-3M203.0 407.5h3M854.0 407.5h-3M203.0 391.5h3M854.0 391.5h-3M203.0 357.5h3M854.0 357.5h-3M203.0 340.5h3M854.0 340.5h-3M203.0 323.5h3M854.0 323.5h-3M203.0 290.5h3M854.0 290.5h-3M203.0 273.5h3M854.0 273.5h-3M203.0 256.5h3M854.0 256.5h-3M203.0 223.5h3M854.0 223.5h-3M203.0 206.5h3M854.0 206.5h-3M203.0 189.5h3M854.0 189.5h-3M203.0 156.5h3M854.0 156.5h-3M203.0 139.5h3M854.0 139.5h-3M203.0 122.5h3M854.0 122.5h-3M203.0 88.5h3M854.0 88.5h-3M203.0 72.5h3M854.0 72.5h-3M203.0 55.5h3M854.0 55.5h-3" stroke-opacity="0.33"/>
</g>
<g id="ylabels" font-size="29.5">
<text transform="translate(118.40,48.70) scale(1,1.02)" x="-35.91">1.2</text>
<path d="M125.20 34.30L139.20 48.30M125.20 48.30L139.20 34.30" stroke="#000" stroke-width="2.8" fill="none"/>
<text transform="translate(148.00,48.70) scale(1,1.02)" x="-2.06">10</text>
<rect x="175.80" y="30.65" width="11.20" height="2.3" fill="#000"/>
<text transform="translate(188.70,37.50) scale(1,1.02)" x="-0.44" font-size="21.7">6</text>
<text transform="translate(118.40,115.87) scale(1,1.02)" x="-21.13">1.</text>
<path d="M125.20 101.47L139.20 115.47M125.20 115.47L139.20 101.47" stroke="#000" stroke-width="2.8" fill="none"/>
<text transform="translate(148.00,115.87) scale(1,1.02)" x="-2.06">10</text>
<rect x="175.80" y="97.82" width="11.20" height="2.3" fill="#000"/>
<text transform="translate(188.70,104.67) scale(1,1.02)" x="-0.44" font-size="21.7">6</text>
<text transform="translate(118.40,183.03) scale(1,1.02)" x="-21.13">8.</text>
<path d="M125.20 168.63L139.20 182.63M125.20 182.63L139.20 168.63" stroke="#000" stroke-width="2.8" fill="none"/>
<text transform="translate(148.00,183.03) scale(1,1.02)" x="-2.06">10</text>
<rect x="175.80" y="164.98" width="11.20" height="2.3" fill="#000"/>
<text transform="translate(188.70,171.83) scale(1,1.02)" x="-0.94" font-size="21.7">7</text>
<text transform="translate(118.40,250.20) scale(1,1.02)" x="-21.13">6.</text>
<path d="M125.20 235.80L139.20 249.80M125.20 249.80L139.20 235.80" stroke="#000" stroke-width="2.8" fill="none"/>
<text transform="translate(148.00,250.20) scale(1,1.02)" x="-2.06">10</text>
<rect x="175.80" y="232.15" width="11.20" height="2.3" fill="#000"/>
<text transform="translate(188.70,239.00) scale(1,1.02)" x="-0.94" font-size="21.7">7</text>
<text transform="translate(118.40,317.37) scale(1,1.02)" x="-21.13">4.</text>
<path d="M125.20 302.97L139.20 316.97M125.20 316.97L139.20 302.97" stroke="#000" stroke-width="2.8" fill="none"/>
<text transform="translate(148.00,317.37) scale(1,1.02)" x="-2.06">10</text>
<rect x="175.80" y="299.32" width="11.20" height="2.3" fill="#000"/>
<text transform="translate(188.70,306.17) scale(1,1.02)" x="-0.94" font-size="21.7">7</text>
<text transform="translate(118.40,384.53) scale(1,1.02)" x="-21.13">2.</text>
<path d="M125.20 370.13L139.20 384.13M125.20 384.13L139.20 370.13" stroke="#000" stroke-width="2.8" fill="none"/>
<text transform="translate(148.00,384.53) scale(1,1.02)" x="-2.06">10</text>
<rect x="175.80" y="366.48" width="11.20" height="2.3" fill="#000"/>
<text transform="translate(188.70,373.33) scale(1,1.02)" x="-0.94" font-size="21.7">7</text>
<text transform="translate(198.90,448.20) scale(1,1.02)" x="-13.93">0</text>
</g>
<g id="xlabels" font-size="29.5">
<text transform="translate(193.36,465.70) scale(1,1.02)" x="-0.94">250</text>
<text transform="translate(390.94,465.70) scale(1,1.02)" x="-0.81">300</text>
<text transform="translate(588.59,465.70) scale(1,1.02)" x="-0.81">350</text>
<text transform="translate(785.89,465.70) scale(1,1.02)" x="-0.10">400</text>
</g>
<g id="title" font-size="29.5">
<text transform="translate(352.30,24.15) scale(0.96,0.97)" x="-0.39" class="i">e</text>
<path d="M366.7 7.2H378.5M372.6 1.5V13" stroke="#000" stroke-width="2.2" fill="none"/>
<text transform="translate(386.80,24.15) scale(0.96,0.97)" x="-0.39" class="i">e</text>
<rect x="400.90" y="6.10" width="12.00" height="2.2" fill="#000"/>
<path d="M416 16.7H435.3M430.0 10.6L436.0 16.7L430.0 22.8" stroke="#000" stroke-width="3" fill="none" stroke-linejoin="miter"/>
<text transform="translate(447.10,24.15) scale(1,1.03)" x="-1.11">Z</text>
<text transform="translate(473.40,24.15) scale(1,0.895)" x="-0.43">h</text>
<text transform="translate(497.00,24.15) scale(1,0.895)" x="-0.43">h</text>
<text transform="translate(520.80,22.77) scale(1,0.86)" x="-1.00">(</text>
<text transform="translate(531.00,24.15) scale(1,1.03)" x="-1.27">SM,</text>
<text transform="translate(588.30,24.15) scale(1,1.02)" x="-0.88">500</text>
<text transform="translate(639.30,24.15) scale(1,1.03)" x="-1.14">GeV</text>
<text transform="translate(695.20,22.77) scale(1,0.86)" x="-0.65">)</text>
</g>
<g id="xlabel" font-size="29.5">
<text transform="translate(463.80,500.50) scale(0.975,1.0)" x="0.69" class="i">M</text>
<text transform="translate(490.60,505.80) scale(1,0.93)" x="-0.21" font-size="20.5">hh</text>
<text transform="translate(519.00,499.42) scale(1,0.86)" x="-1.00">(</text>
<text transform="translate(528.40,500.80) scale(1,1.03)" x="-1.14">GeV</text>
<text transform="translate(584.30,499.42) scale(1,0.86)" x="-0.65">)</text>
</g>
<g id="ylabel" font-size="29.5">
<text transform="translate(42.92,258.50) rotate(-90) scale(1,0.86)" x="-1.00">(</text>
<text transform="translate(44.30,248.50) rotate(-90) scale(1,1.03)" x="-0.07">pb/GeV</text>
<text transform="translate(42.92,149.70) rotate(-90) scale(1,0.86)" x="-0.65">)</text>
<text transform="translate(21.80,320.00) rotate(-90) scale(1,0.98)" x="-0.90">d</text>
<text transform="translate(21.80,305.80) rotate(-90) scale(1.22,1.02)" x="-0.55" class="i">σ</text>
<rect x="32.4" y="273.1" width="3.1" height="64.6" fill="#000"/>
<text transform="translate(69.20,334.40) rotate(-90) scale(1,0.98)" x="-0.90">dm</text>
<text transform="translate(73.90,293.10) rotate(-90) scale(1,0.93)" x="-0.21" font-size="20.5">hh</text>
</g>
</svg></body></html>
